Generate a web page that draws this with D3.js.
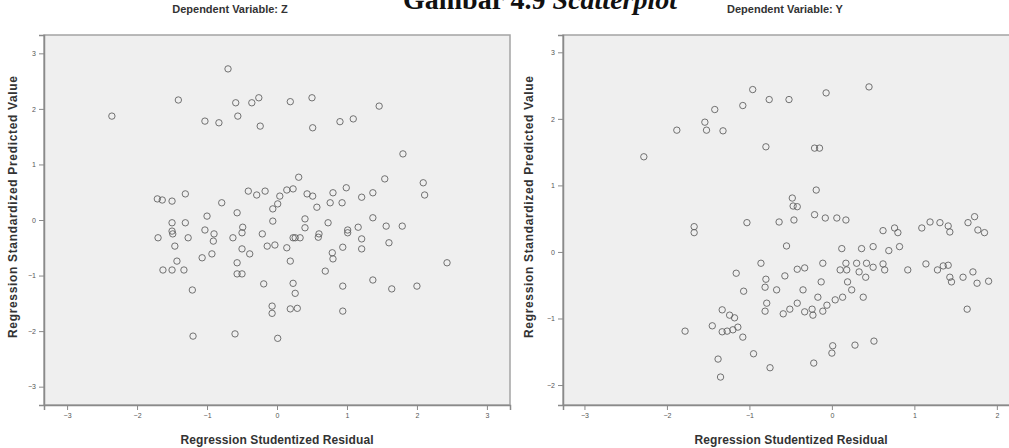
<!DOCTYPE html>
<html>
<head>
<meta charset="utf-8">
<script src="https://cdn.jsdelivr.net/npm/d3@7"></script>
<style>
	body { margin: 0; background: #fff; }
	svg { display: block; }
	.title { font-family: "Liberation Serif", "DejaVu Serif", serif; font-weight: bold; fill: #111; }
	.lab { font-family: "Liberation Sans Narrow", "Liberation Sans", sans-serif; font-weight: bold; fill: #333; }
	.axis text { font-family: "Liberation Sans", sans-serif; font-size: 7px; fill: #555; }
	.axis path, .axis line { stroke: #8a8a8a; }
</style>
</head>
<body>
<svg id="chart" width="1009" height="448"></svg>
<script>
;(function() {
	"use strict";

	// Left panel: dependent variable Z
	var zResidual = [-0.70,-1.41,-2.36,-0.59,-0.36,-0.26,0.19,0.50,1.46,-1.03,-0.83,-0.56,-0.24,0.51,0.90,1.09,1.80,
		0.31,1.54,2.09,2.11,-1.71,-1.64,-1.50,-1.31,-0.79,-0.41,-0.29,-0.17,0.04,0.14,0.23,0.43,0.51,0.57,0.76,0.80,
		0.93,0.99,1.21,1.37,-0.06,0.01,-0.57,-1.00,-1.50,-1.50,-1.31,-1.03,-0.90,-0.49,-0.06,0.40,0.40,0.73,1.01,1.16,
		1.37,1.56,1.79,-0.63,-0.21,0.23,0.33,0.60,-1.70,-1.27,-1.49,-0.91,-0.50,-0.14,-0.03,0.14,0.26,0.59,1.01,1.21,
		1.21,1.60,-1.46,-0.50,-0.39,-0.93,-1.07,-1.43,-0.57,0.19,0.79,0.80,0.94,-1.63,-1.50,-1.33,-0.57,-0.50,0.69,
		2.43,-1.21,-0.19,0.23,0.26,0.94,1.37,1.64,2.00,-0.07,-0.07,0.19,0.29,0.94,-1.20,-0.60,0.01];
	var zPredicted = [2.72,2.16,1.87,2.11,2.11,2.20,2.13,2.20,2.05,1.78,1.75,1.87,1.69,1.66,1.77,1.82,1.19,
		0.77,0.74,0.67,0.45,0.38,0.36,0.34,0.47,0.31,0.52,0.45,0.52,0.43,0.54,0.56,0.47,0.43,0.23,0.31,0.49,
		0.31,0.58,0.41,0.49,0.20,0.29,0.13,0.07,-0.05,-0.20,-0.05,-0.18,-0.25,-0.13,-0.02,0.02,-0.14,-0.05,-0.18,-0.13,
		0.04,-0.11,-0.11,-0.32,-0.25,-0.32,-0.32,-0.25,-0.32,-0.32,-0.25,-0.38,-0.23,-0.47,-0.45,-0.50,-0.32,-0.31,-0.23,-0.34,
		-0.52,-0.41,-0.47,-0.52,-0.61,-0.61,-0.68,-0.74,-0.77,-0.74,-0.59,-0.70,-0.49,-0.90,-0.90,-0.90,-0.97,-0.97,-0.92,
		-0.77,-1.26,-1.15,-1.14,-1.32,-1.19,-1.08,-1.24,-1.19,-1.55,-1.68,-1.60,-1.59,-1.64,-2.09,-2.05,-2.13];

	// Right panel: dependent variable Y
	var yResidual = [-0.96,-0.76,-0.52,-0.07,0.45,-1.42,-1.08,-1.88,-1.54,-1.52,-1.32,-2.28,-0.80,-0.21,-0.15,-0.19,
		-0.48,-0.47,-0.42,-0.46,-1.03,-0.64,-0.21,-0.08,0.06,0.17,-1.67,-1.67,0.62,0.76,0.80,1.09,1.19,1.31,1.41,1.43,
		1.65,1.73,1.77,1.85,0.82,-0.55,0.12,0.36,0.50,0.69,-0.86,-1.16,-0.57,-0.42,-0.33,-0.11,0.17,0.10,0.18,0.30,
		0.33,0.42,0.41,0.50,0.62,0.64,0.92,1.14,1.28,1.35,1.41,1.43,1.45,1.59,1.71,1.76,1.90,-0.80,-0.81,-0.67,-1.07,
		-0.35,-0.13,-0.17,0.19,0.24,0.38,-0.79,-0.81,-0.59,-0.51,-0.42,-0.33,-0.24,-0.23,-0.11,-0.06,0.04,0.13,-1.33,
		-1.24,-1.18,-1.14,-1.78,-1.45,-1.33,-1.27,-1.20,-1.08,-0.95,-1.38,-1.35,-0.75,-0.22,0.01,0.00,0.28,0.51,1.64];
	var yPredicted = [2.44,2.29,2.29,2.39,2.48,2.14,2.20,1.83,1.95,1.83,1.82,1.43,1.58,1.56,1.56,0.93,
		0.81,0.69,0.68,0.48,0.44,0.45,0.56,0.51,0.51,0.48,0.38,0.29,0.32,0.36,0.29,0.36,0.45,0.44,0.39,0.30,
		0.44,0.53,0.33,0.29,0.08,0.09,0.05,0.05,0.08,0.02,-0.17,-0.32,-0.36,-0.26,-0.24,-0.17,-0.17,-0.27,-0.27,-0.17,
		-0.30,-0.17,-0.38,-0.23,-0.18,-0.27,-0.27,-0.18,-0.27,-0.21,-0.20,-0.38,-0.45,-0.38,-0.30,-0.47,-0.44,-0.41,-0.53,-0.57,-0.59,
		-0.57,-0.45,-0.68,-0.45,-0.57,-0.68,-0.77,-0.89,-0.93,-0.86,-0.77,-0.90,-0.86,-0.95,-0.89,-0.80,-0.72,-0.68,-0.87,
		-0.95,-0.99,-1.13,-1.19,-1.11,-1.20,-1.19,-1.17,-1.28,-1.53,-1.61,-1.88,-1.74,-1.67,-1.41,-1.52,-1.40,-1.34,-0.86];

	var zTicksX = [-3, -2, -1, 0, 1, 2, 3],
		zTicksY = [-3, -2, -1, 0, 1, 2, 3],
		yTicksX = [-3, -2, -1, 0, 1, 2],
		yTicksY = [-2, -1, 0, 1, 2, 3];

	var svg = d3.select("#chart");

	// Figure caption, its top is cut off in the source
	var cap = svg.append("text")
		.attr("class", "title")
		.attr("x", 540).attr("y", 9)
		.attr("text-anchor", "middle")
		.style("font-size", "28px");
	cap.append("tspan").text("Gambar 4.9 ");
	cap.append("tspan").style("font-style", "italic").text("Scatterplot");

	function drawPanel(p) {
		var x = d3.scaleLinear().domain(p.xDomain).range([p.left, p.right]),
			y = d3.scaleLinear().domain(p.yDomain).range([p.bottom, p.top]);

		var g = svg.append("g");

		g.append("rect")
			.attr("x", p.left).attr("y", p.top)
			.attr("width", p.right - p.left).attr("height", p.bottom - p.top)
			.style("fill", "#efefef")
			.style("stroke", "#a4a4a4")
			.style("stroke-width", 1.5);

		var ax = g.append("g")
			.attr("class", "axis")
			.attr("transform", "translate(0," + p.bottom + ")")
			.call(d3.axisBottom(x).tickValues(p.xTicks).tickFormat(d3.format("d")).tickSizeOuter(0).tickSize(5).tickPadding(3));
		ax.select(".domain").style("stroke-width", 1.5);

		var ay = g.append("g")
			.attr("class", "axis")
			.attr("transform", "translate(" + p.left + ",0)")
			.call(d3.axisLeft(y).tickValues(p.yTicks).tickFormat(d3.format("d")).tickSizeOuter(0).tickSize(5).tickPadding(3));
		ay.select(".domain").style("stroke-width", 1.5);

		g.selectAll("circle.pt")
			.data(d3.zip(p.xs, p.ys))
			.enter().append("circle")
				.attr("class", "pt")
				.attr("cx", function(d) { return x(d[0]); })
				.attr("cy", function(d) { return y(d[1]); })
				.attr("r", 3.2)
				.style("fill", "none")
				.style("stroke", "#5c5c5c")
				.style("stroke-width", 1)
				.style("opacity", 0.85);

		// Labels
		g.append("text").attr("class", "lab")
			.attr("x", p.subX).attr("y", 13)
			.attr("text-anchor", "middle")
			.style("font-size", "11px")
			.text(p.subtitle);

		g.append("text").attr("class", "lab")
			.attr("x", p.xTitleX).attr("y", 444)
			.attr("text-anchor", "middle")
			.attr("textLength", 193)
			.style("font-size", "12px")
			.text("Regression Studentized Residual");

		g.append("text").attr("class", "lab")
			.attr("transform", "translate(" + p.yTitleX + ",207) rotate(-90)")
			.attr("text-anchor", "middle")
			.attr("dy", "0.35em")
			.attr("textLength", 262)
			.style("font-size", "12px")
			.text("Regression Standardized Predicted Value");
	}

	drawPanel({
		left: 44, right: 510, top: 35, bottom: 405,
		xDomain: [-3.33, 3.33], yDomain: [-3.33, 3.33],
		xTicks: zTicksX, yTicks: zTicksY,
		xs: zResidual, ys: zPredicted,
		subtitle: "Dependent Variable: Z", subX: 230,
		xTitleX: 277, yTitleX: 13
	});

	drawPanel({
		left: 563, right: 1015, top: 35, bottom: 405,
		xDomain: [-3.26, 2.22], yDomain: [-2.30, 3.26],
		xTicks: yTicksX, yTicks: yTicksY,
		xs: yResidual, ys: yPredicted,
		subtitle: "Dependent Variable: Y", subX: 785,
		xTitleX: 791, yTitleX: 529
	});
})();
</script>
</body>
</html>
